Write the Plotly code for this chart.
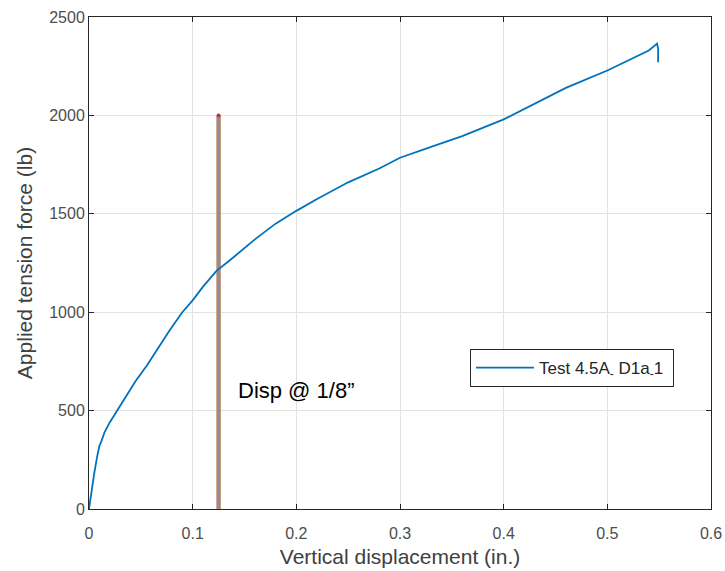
import plotly.graph_objects as go

disp = [0, 0.002, 0.005, 0.008, 0.010, 0.012, 0.015, 0.020, 0.027, 0.035, 0.045, 0.056,
        0.067, 0.078, 0.090, 0.100, 0.110, 0.123, 0.135, 0.146, 0.160, 0.180, 0.200,
        0.220, 0.250, 0.280, 0.300, 0.330, 0.360, 0.400, 0.430, 0.460, 0.500, 0.520,
        0.540, 0.548, 0.549, 0.549]
force = [0, 80, 180, 270, 320, 345, 390, 440, 500, 570, 650, 730,
         820, 910, 1000, 1060, 1130, 1210, 1260, 1310, 1370, 1450, 1515,
         1575, 1660, 1730, 1785, 1840, 1895, 1980, 2060, 2140, 2228, 2280,
         2330, 2365, 2340, 2270]

marker_x = [0.125, 0.125]
marker_y = [0, 2000]

x_ticks = [0, 0.1, 0.2, 0.3, 0.4, 0.5, 0.6]
x_labels = ["0", "0.1", "0.2", "0.3", "0.4", "0.5", "0.6"]
y_ticks = [0, 500, 1000, 1500, 2000, 2500]
y_labels = ["0", "500", "1000", "1500", "2000", "2500"]

FONT = "Liberation Sans, Arial, sans-serif"

fig = go.Figure()
fig.add_trace(go.Scatter(x=marker_x, y=marker_y, mode="lines",
                         line=dict(color="#B98A6A", width=4.5), showlegend=False, hoverinfo="skip"))
fig.add_trace(go.Scatter(x=marker_x, y=marker_y, mode="lines",
                         line=dict(color="#8C8C9C", width=2), opacity=0.8, showlegend=False, hoverinfo="skip"))
fig.add_trace(go.Scatter(x=[marker_x[1]], y=[marker_y[1]], mode="markers",
                         marker=dict(color="#C0304A", size=4), showlegend=False, hoverinfo="skip"))
fig.add_trace(go.Scatter(x=disp, y=force, mode="lines",
                         name="Test 4.5A<sub>-</sub> D1a<sub>-</sub>1\u00a0",
                         line=dict(color="#0072BD", width=1.8)))

fig.add_annotation(x=0.1415, y=600, text="Disp @ 1/8\u201d", showarrow=False,
                   xanchor="left", yanchor="middle",
                   font=dict(family=FONT, size=22, color="black"))

axis_common = dict(showline=True, linecolor="#262626", linewidth=1, mirror="ticks",
                   ticks="inside", ticklen=5, tickcolor="#262626",
                   showgrid=True, gridcolor="#E3E3E3", gridwidth=1, zeroline=False,
                   tickfont=dict(family=FONT, size=16, color="#4D4D4D"))

fig.update_xaxes(range=[0, 0.6], tickvals=x_ticks, ticktext=x_labels,
                 ticklabelstandoff=10,
                 title=dict(text="Vertical displacement (in.)", standoff=8,
                            font=dict(family=FONT, size=21, color="#404040")),
                 **axis_common)
fig.update_yaxes(range=[0, 2500], tickvals=y_ticks, ticktext=y_labels,
                 title=dict(text="Applied tension force (lb)", standoff=10,
                            font=dict(family=FONT, size=21, color="#404040")),
                 **axis_common)

fig.update_layout(
    width=725, height=571,
    margin=dict(l=89, r=14, t=17, b=62, autoexpand=False),
    plot_bgcolor="white", paper_bgcolor="white",
    font=dict(family=FONT),
    legend=dict(x=0.6125, y=0.325, xanchor="left", yanchor="top",
                bgcolor="white", bordercolor="#262626", borderwidth=1,
                itemwidth=58,
                font=dict(family=FONT, size=17, color="#262626")),
)

fig.write_html("out.html")
